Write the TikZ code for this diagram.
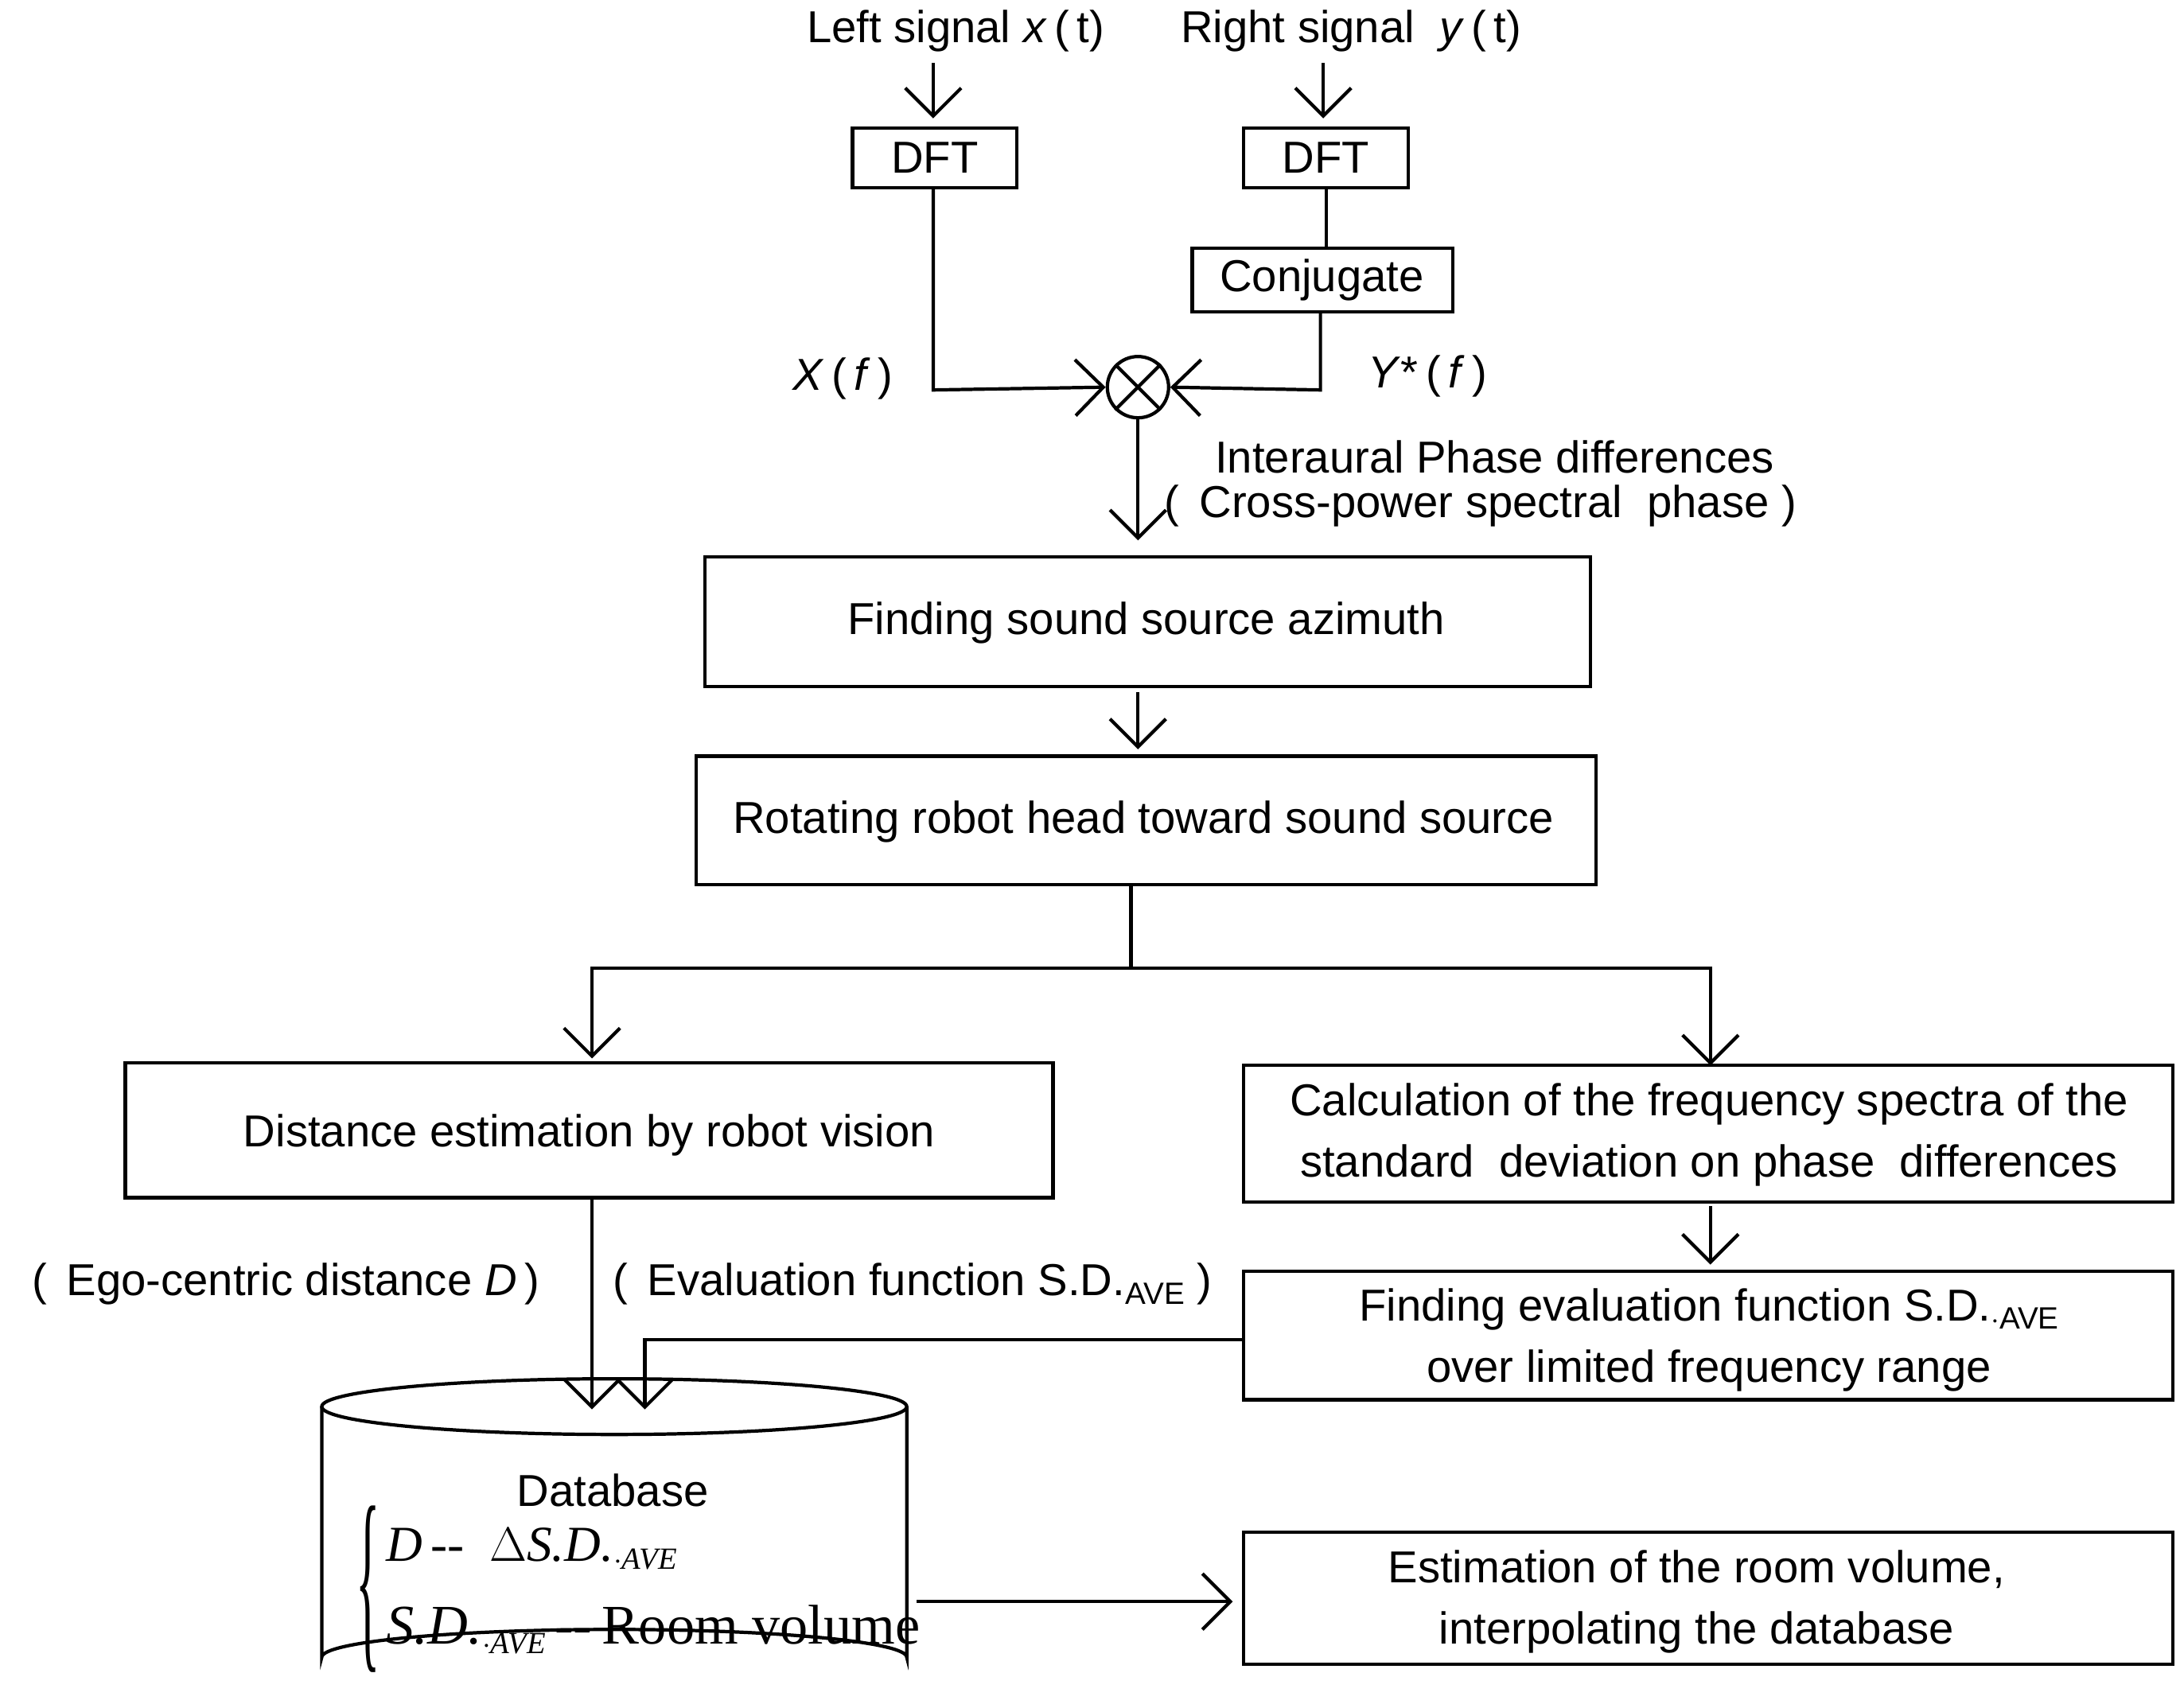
\documentclass[tikz,border=0pt]{standalone}
\usepackage{fontspec}
\setmainfont{Liberation Sans}
\newfontfamily\serif{Liberation Serif}
\usetikzlibrary{arrows.meta}
\newcommand{\sub}[1]{\raisebox{-0.35ex}{\fontsize{11}{11}\selectfont #1}}
\begin{document}
\begin{tikzpicture}[x=0.0175cm,y=-0.0175cm,
 box/.style={draw,line width=1.2pt,inner sep=0},
 t/.style={font=\fontsize{16}{19}\selectfont},
 ln/.style={line width=1.2pt},
 ar/.style={line width=1.2pt,-{Straight Barb[length=10pt,width=20pt]}}]
\useasboundingbox (0,0) rectangle (1568,1226);
\node[t] (ls) at (686,22) {Left signal \textit{x}\,(\,t)};
\node[t] (rs) at (970,22) {Right signal\ \ \textit{y}\,(\,t)};
\draw[box] (612,92) rectangle (730,135); \node[t] (d1) at (671,113) {DFT};
\draw[box] (893,92) rectangle (1011,135); \node[t] (d2) at (952,113) {DFT};
\draw[box] (856,178) rectangle (1043,224); \node[t] (cj) at (949,201) {Conjugate};
\draw[ar] (670,45) -- (670,85);
\draw[ar] (950,45) -- (950,85);
\draw[ln] (952,135) -- (952,178);
\node[draw,circle,line width=1.2pt,minimum size=0.77cm,inner sep=0] (m) at (817,278) {};
\draw[ln] (m.45) -- (m.225); \draw[ln] (m.135) -- (m.315);
\draw[ar] (670,135) -- (670,280) -- (m.west);
\draw[ar] (948,224) -- (948,280) -- (m.east);
\node[t] (xf) at (605,272) {\textit{X}\,(\,\textit{f}\,)};
\node[t] (yf) at (1025,270) {\textit{Y}*\,(\,\textit{f}\,)};
\draw[ar] (m.south) -- (817,388);
\node[t] at (1073,328) {Interaural Phase differences};
\node[t] at (1063,363) {(\ \,Cross-power spectral\ \ phase\ )};
\draw[box] (506,400) rectangle (1142,493); \node[t] (az) at (823,447) {Finding sound source azimuth};
\draw[ar] (817,497) -- (817,538);
\draw[box] (500,543) rectangle (1146,635); \node[t] (rot) at (821,590) {Rotating robot head toward sound source};
\draw[ln] (812,635) -- (812,695);
\draw[ar] (812,695) -- (425,695) -- (425,760);
\draw[ar] (812,695) -- (1228,695) -- (1228,765);
\draw[box] (90,763) rectangle (756,860); \node[t] (dist) at (423,815) {Distance estimation by robot vision};
\draw[box] (893,765) rectangle (1560,863);
\node[t,align=center] (calc) at (1227,815) {Calculation of the frequency spectra of the\\[3pt] standard\ \ deviation on phase\ \ differences};
\draw[ar] (1228,866) -- (1228,908);
\draw[box] (893,913) rectangle (1560,1005);
\node[t,align=center] (ev) at (1227,962) {Finding evaluation function S.D.\sub{$\cdot$AVE}\\[3pt]over limited frequency range};
\node[t] at (205,922) {(\ \,Ego-centric distance \textit{D}\,)};
\node[t] at (655,922) {(\ \,Evaluation function S.D.\sub{AVE}\ )};
% cylinder
\draw[line width=1.2pt] (441,1010) ellipse (210 and 20);
\draw[line width=1.2pt] (231,1010) -- (231,1190) arc[start angle=180,end angle=360,x radius=210,y radius=20] -- (651,1010);
\draw[ar] (425,860) -- (425,1012);
\draw[ar] (893,962) -- (463,962) -- (463,1012);
\node[t] (db) at (440,1070) {Database};
\node[anchor=west,font=\serif\fontsize{18}{20}\selectfont,inner sep=0] at (255,1141) {\scalebox{1}[4]{\{}};
\node[anchor=west,font=\serif\fontsize{18}{20}\selectfont] at (270,1112) {\textit{D}\,--\ \ \textit{$\Delta$S.D.}\sub{\textit{$\cdot$AVE}}};
\node[anchor=west,font=\serif\fontsize{20}{22}\selectfont] at (270,1170) {\textit{S.D.}\sub{\textit{$\cdot$AVE}}\,--\,Room volume};
\draw[ar] (658,1150) -- (885,1150);
\draw[box] (893,1100) rectangle (1560,1195);
\node[t,align=center] (est) at (1218,1150) {Estimation of the room volume,\\[3pt]interpolating the database};
\end{tikzpicture}
\end{document}
